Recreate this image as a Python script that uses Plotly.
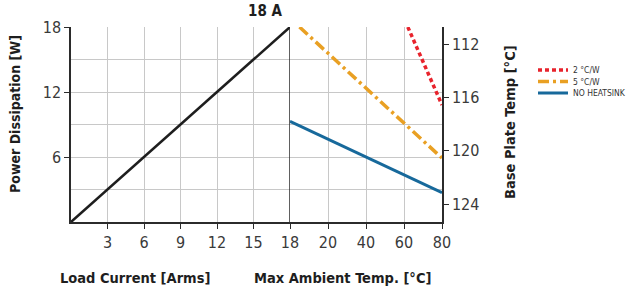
import numpy as np
import plotly.graph_objects as go

# ---- data ----
load_current = [0, 18]          # A rms
power_load = [0, 18]            # W

ambient_tick_vals = [18, 20, 40, 60, 80]   # °C (non-linear, evenly spaced ticks)
ambient_tick_text = ["18", "20", "40", "60", "80"]

red_temp = [62, 80]       # 2 °C/W
red_power = [18, 10.8]
orange_temp = [18.5, 80]  # 5 °C/W
orange_power = [18, 5.9]
blue_temp = [18, 80]      # no heatsink
blue_power = [9.3, 2.7]

base_plate_ticks = [112, 116, 120, 124]
power_ticks = [6, 12, 18]
current_ticks = [3, 6, 9, 12, 15, 18]


def amb_pos(t):
    """Ambient-temperature scale: ticks are evenly spaced."""
    return list(np.interp(t, ambient_tick_vals, list(range(len(ambient_tick_vals)))))


W, H = 629, 296
px = lambda v: v / W
py = lambda v: 1 - v / H

FONT = "DejaVu Sans Condensed, Liberation Sans Narrow, sans-serif"
AX = "#2b2b2b"
GRID = "#c8c8c8"

fig = go.Figure()

fig.add_trace(go.Scatter(x=load_current, y=power_load, mode="lines",
                         line=dict(color="#1e1e1e", width=2.5),
                         showlegend=False, xaxis="x", yaxis="y"))

fig.add_trace(go.Scatter(x=amb_pos(red_temp), y=red_power, mode="lines",
                         name="2 °C/W", legend="legend",
                         line=dict(color="#e8232c", width=3.5, dash="4px,3px"),
                         xaxis="x2", yaxis="y"))
fig.add_trace(go.Scatter(x=amb_pos(orange_temp), y=orange_power, mode="lines",
                         name="5 °C/W", legend="legend2",
                         line=dict(color="#e9a023", width=3.5, dash="11px,4px,3px,4px"),
                         xaxis="x2", yaxis="y"))
fig.add_trace(go.Scatter(x=amb_pos(blue_temp), y=blue_power, mode="lines",
                         name="NO HEATSINK", legend="legend3",
                         line=dict(color="#17699b", width=3),
                         xaxis="x2", yaxis="y"))
# invisible trace to attach the base-plate temperature axis
fig.add_trace(go.Scatter(x=[None], y=[None], xaxis="x2", yaxis="y2",
                         showlegend=False, hoverinfo="skip"))

y_dom = [py(222), py(27)]
tickfont = dict(family=FONT, size=16, color="#3a3a3a")

fig.update_layout(
    width=W, height=H,
    margin=dict(l=0, r=0, t=0, b=0, autoexpand=False),
    paper_bgcolor="white", plot_bgcolor="white",
    showlegend=True,
    xaxis=dict(domain=[px(71), px(290)], range=[0, 18], anchor="y",
               tickvals=current_ticks, ticks="outside", ticklen=5,
               tickcolor=AX, tickwidth=1.2, showline=True, linecolor=AX,
               linewidth=1.5, showgrid=True, gridcolor=GRID, gridwidth=1,
               zeroline=False, tickfont=tickfont, automargin=False),
    xaxis2=dict(domain=[px(290), px(442)], range=[0, 4], anchor="y",
                tickvals=[1, 2, 3, 4], ticktext=ambient_tick_text[1:],
                ticks="outside", ticklen=5, tickcolor=AX, tickwidth=1.2,
                showline=True, linecolor=AX, linewidth=1.5, showgrid=True,
                gridcolor=GRID, gridwidth=1, zeroline=False, tickfont=tickfont,
                automargin=False),
    yaxis=dict(domain=y_dom, range=[0, 18], anchor="x",
               tickvals=power_ticks, ticks="outside", ticklen=5,
               tickcolor=AX, tickwidth=1.2, showline=True, linecolor=AX,
               linewidth=1.5, showgrid=True, gridcolor=GRID, gridwidth=1,
               minor=dict(dtick=3, showgrid=True, gridcolor=GRID, gridwidth=1),
               zeroline=False, tickfont=tickfont, automargin=False),
    yaxis2=dict(domain=y_dom, range=[125.35, 110.72], anchor="x2",
                overlaying="y", side="right",
                tickvals=base_plate_ticks, ticks="outside", ticklen=5,
                tickcolor=AX, tickwidth=1.2, showline=True, linecolor=AX,
                linewidth=1.5, showgrid=False, zeroline=False, tickfont=tickfont,
                automargin=False),
)

legend_common = dict(font=dict(family=FONT, size=8.5, color="#333333"),
                     bgcolor="rgba(0,0,0,0)", borderwidth=0,
                     xref="container", yref="container",
                     xanchor="left", yanchor="middle", itemwidth=30)
fig.update_layout(
    legend=dict(x=px(533), y=py(70), **legend_common),
    legend2=dict(x=px(533), y=py(81.5), **legend_common),
    legend3=dict(x=px(533), y=py(93), **legend_common),
)

# dark vertical separator at 18 A
fig.add_shape(type="line", xref="x", yref="y domain", x0=18, x1=18, y0=0, y1=1,
              line=dict(color=AX, width=1.5))

bold = dict(family=FONT, color="#1e1e1e")
ann = dict(xref="paper", yref="paper", showarrow=False,
           xanchor="center", yanchor="middle")
fig.add_annotation(text="<b>18 A</b>", x=px(265), y=py(11),
                   font=dict(size=15, **bold), **ann)
fig.add_annotation(text="<b>Power Dissipation [W]</b>", x=px(15), y=py(114),
                   textangle=-90, font=dict(size=14, **bold), **ann)
fig.add_annotation(text="<b>Base Plate Temp [°C]</b>", x=px(510), y=py(122),
                   textangle=-90, font=dict(size=14.5, **bold), **ann)
fig.add_annotation(text="<b>Load Current [Arms]</b>", x=px(135), y=py(278),
                   font=dict(size=14.5, **bold), **ann)
fig.add_annotation(text="<b>Max Ambient Temp. [°C]</b>", x=px(342), y=py(278),
                   font=dict(size=14.5, **bold), **ann)

fig.write_html("out.html",
               config={"displayModeBar": False},
               post_script="document.body.style.margin='0px';"
                           "document.body.style.overflow='hidden';")
